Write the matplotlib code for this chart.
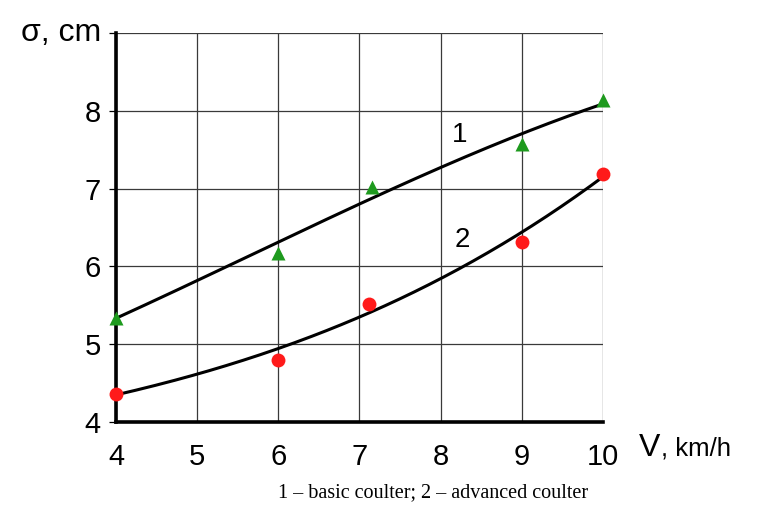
import matplotlib.pyplot as plt
import numpy as np

# measured points
v_basic = [4, 6, 7.15, 9, 10]
s_basic = [5.34, 6.17, 7.02, 7.57, 8.14]
v_adv = [4, 6, 7.12, 9, 10]
s_adv = [4.35, 4.79, 5.51, 6.31, 7.19]

# trend curves, read at each km/h
v_curve = [4, 5, 6, 7, 8, 9, 10]
c_basic = [5.33, 5.82, 6.30, 6.81, 7.27, 7.70, 8.09]
c_adv = [4.35, 4.60, 4.94, 5.37, 5.82, 6.44, 7.15]

xticks = [4, 5, 6, 7, 8, 9, 10]
yticks = [4, 5, 6, 7, 8, 9]
ylabels = ['4', '5', '6', '7', '8', '']

plt.rcParams['font.family'] = ['Liberation Sans', 'DejaVu Sans']

fig = plt.figure(figsize=(7.63, 5.23), dpi=100)
ax = fig.add_axes([0.152, 0.1937, 0.638, 0.743])

# smooth the trend curves for drawing
vv = np.linspace(4, 10, 200)
for cv in (c_basic, c_adv):
    p = np.polyfit(v_curve, cv, 3)
    ax.plot(vv, np.polyval(p, vv), color='black', lw=2.2, zorder=3, clip_on=False)

ax.plot(v_basic, s_basic, '^', color='#1e9a1e', ms=9.5, mec='none', zorder=4, clip_on=False)
ax.plot(v_adv, s_adv, 'o', color='#ff1a1a', ms=10, mec='none', zorder=4, clip_on=False)

ax.text(8.24, 7.69, '1', fontsize=20, ha='center', va='center')
ax.text(8.27, 6.34, '2', fontsize=20, ha='center', va='center')

ax.set_xlim(4, 10)
ax.set_ylim(4, 9)
ax.set_xticks(xticks)
ax.set_yticks(yticks)
ax.set_yticklabels(ylabels)
ax.grid(True, color='#3a3a3a', lw=0.9)
ax.set_axisbelow(True)
for s in ('top', 'right'):
    ax.spines[s].set_visible(False)
for s in ('left', 'bottom'):
    ax.spines[s].set_linewidth(2.6)
ax.tick_params(axis='x', length=0, pad=15, labelsize=21)
ax.tick_params(axis='y', length=5, width=0.9, pad=6, labelsize=21, direction='out')

ax.text(-0.03, 1.0, 'σ, cm', transform=ax.transAxes, fontsize=23,
        ha='right', va='center')
ax.text(10.45, 3.56, 'V', fontsize=23, ha='left', va='baseline', clip_on=False)
ax.text(10.72, 3.56, ', km/h', fontsize=18.5, ha='left', va='baseline', clip_on=False)

fig.text(0.568, 0.058, '1 – basic coulter; 2 – advanced coulter',
         family='Liberation Serif', fontsize=14.5, ha='center', va='center')

fig.savefig('out.png', dpi=100)
